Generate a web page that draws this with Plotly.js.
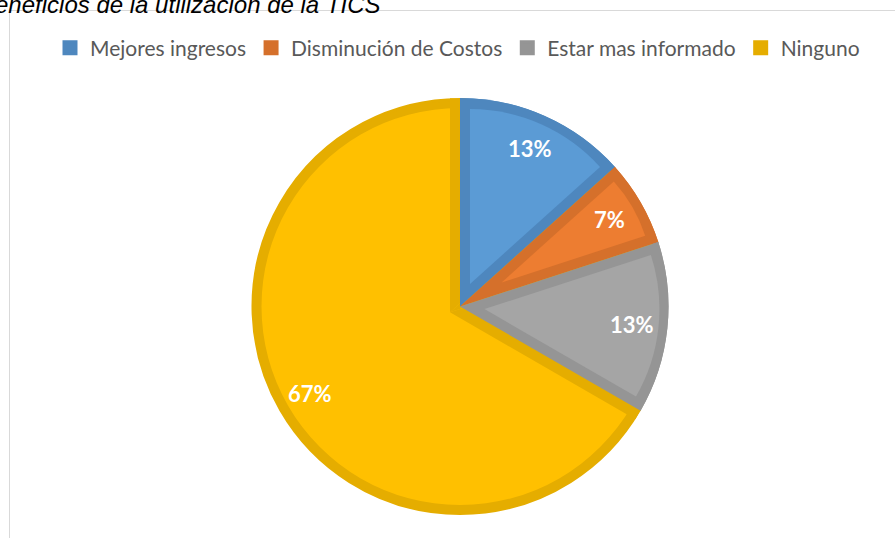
<!DOCTYPE html>
<html>
<head>
<meta charset="utf-8">
<script src="https://cdn.plot.ly/plotly-3.0.1.min.js"></script>
<style>html,body{margin:0;padding:0;background:#fff;}#chart{width:895px;height:538px;}</style>
</head>
<body>
<div id="chart"></div>
<script>
// ---- data ----
const labels = ['Mejores ingresos', 'Disminución de Costos', 'Estar mas informado', 'Ninguno'];
const values = [2, 1, 2, 10];
const title = 'Beneficios de la utilización de la TICS';

// ---- styling ----
const fillColors = ['#5B9BD5', '#ED7D31', '#A5A5A5', '#FFC000'];
const edgeColors = ['#4E87BE', '#D5702B', '#959595', '#E5AD00'];
const W = 895, H = 538;
const CX = 460, CY = 306.5, R = 208.5, T = 10;
const LABEL_R = 0.83;
const CLEAR = 'rgba(0,0,0,0)';

function dom(cx, cy, r) {
  return {x: [(cx - r) / W, (cx + r) / W], y: [1 - (cy + r) / H, 1 - (cy - r) / H]};
}
const total = values.reduce((a, b) => a + b, 0);
const starts = [], ends = [];
let acc = 0;
values.forEach(v => { starts.push(acc / total * 2 * Math.PI); acc += v; ends.push(acc / total * 2 * Math.PI); });

function pieTrace(colors, domain, extra) {
  return Object.assign({
    type: 'pie', labels: labels, values: values, sort: false, direction: 'clockwise', rotation: 0,
    marker: {colors: colors, line: {width: 0}}, domain: domain, textinfo: 'none',
    hoverinfo: 'skip', showlegend: false
  }, extra || {});
}

const traces = [];
// 1) full pie in edge colours (legend trace)
traces.push(pieTrace(edgeColors, dom(CX, CY, R - 1.5), {
  showlegend: true, marker: {colors: edgeColors, line: {width: 3, color: edgeColors}}
}));
// 2) inner light fill of the big slice (concentric)
const big = values.indexOf(Math.max(...values));
traces.push(pieTrace(fillColors.map((c, i) => i === big ? c : CLEAR), dom(CX, CY, R - T)));
// 3) edge band of the big slice: the rest widened by T, in its edge colour
{
  const a0 = ends[big] % (2 * Math.PI), span = 2 * Math.PI - (ends[big] - starts[big]);
  const beta = a0 + span / 2, half = span / 2;
  const d = T / Math.sin(half);
  const ax = CX - d * Math.sin(beta), ay = CY + d * Math.cos(beta);
  const rho = Math.sqrt(R * R + d * d + 2 * R * d * Math.cos(half + T / R));
  traces.push(pieTrace(fillColors.map((c, i) => i === big ? CLEAR : edgeColors[big]), dom(ax, ay, rho)));
}
// 4) the other slices again in edge colours
traces.push(pieTrace(edgeColors.map((c, i) => i === big ? CLEAR : c), dom(CX, CY, R)));
// 5) inner light fills of the other slices, each inset by T
values.forEach((v, k) => {
  if (k === big) return;
  const half = (ends[k] - starts[k]) / 2, beta = (starts[k] + ends[k]) / 2;
  const d = T / Math.sin(half);
  const rr = R - T - d * (1 + Math.cos(half)) / 2;
  const ax = CX + d * Math.sin(beta), ay = CY - d * Math.cos(beta);
  traces.push(pieTrace(fillColors.map((c, i) => i === k ? c : CLEAR), dom(ax, ay, rr)));
});

// percentage labels placed along each slice's bisector
const labelAnns = values.map((v, k) => {
  const beta = (starts[k] + ends[k]) / 2;
  const px = CX + LABEL_R * R * Math.sin(beta), py = CY - LABEL_R * R * Math.cos(beta);
  return {
    text: '<b>' + Math.round(v / total * 100) + '%</b>', showarrow: false,
    xref: 'paper', yref: 'paper', x: px / W, y: 1 - py / H, xanchor: 'center', yanchor: 'middle',
    font: {family: 'Lato, "Open Sans", sans-serif', size: 22, color: '#ffffff'}
  };
});

const layout = {
  width: W, height: H,
  margin: {l: 0, r: 0, t: 0, b: 0, pad: 0},
  paper_bgcolor: '#ffffff', plot_bgcolor: '#ffffff',
  showlegend: true,
  legend: {
    orientation: 'h', x: 50 / W, xanchor: 'left', y: 1 - 48 / H, yanchor: 'middle',
    font: {family: 'Lato, "Open Sans", sans-serif', size: 21, color: '#595959'},
    bgcolor: 'rgba(0,0,0,0)', traceorder: 'normal'
  },
  shapes: [{
    type: 'rect', xref: 'paper', yref: 'paper', layer: 'below',
    x0: 9.5 / W, x1: 1.05, y0: -0.05, y1: 1 - 10.5 / H,
    line: {color: '#d9d9d9', width: 1}, fillcolor: CLEAR
  }],
  annotations: [{
    text: '<i>' + title + '</i>', showarrow: false, xref: 'paper', yref: 'paper',
    x: 383 / W, xanchor: 'right', y: 1 - 4 / H, yanchor: 'middle',
    font: {family: '"Liberation Sans", Arial, sans-serif', size: 24, color: '#000000'}
  }].concat(labelAnns)
};

Plotly.newPlot('chart', traces, layout, {displayModeBar: false, staticPlot: true});
</script>
</body>
</html>
